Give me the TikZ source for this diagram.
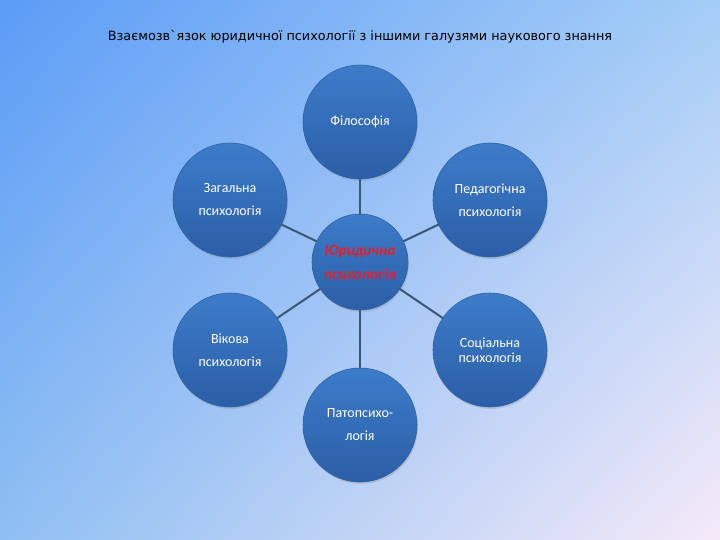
\documentclass[tikz,border=0pt]{standalone}
\usepackage{fontspec}
\setmainfont{Carlito}
\newfontfamily\titlefont{DejaVu Sans}
\usetikzlibrary{shadows,shadings}
\definecolor{bgA}{HTML}{5C9CF6}
\definecolor{bgB}{HTML}{A4CDF6}
\definecolor{bgC}{HTML}{8EBFF2}
\definecolor{bgD}{HTML}{F4E9F8}
\definecolor{ballTop}{HTML}{3D7CC9}
\definecolor{ballBot}{HTML}{2B5EA6}
\definecolor{ballEdge}{HTML}{2F62A6}
\definecolor{linkcol}{HTML}{3A5775}
\definecolor{centrered}{HTML}{E3202B}

\begin{document}
\begin{tikzpicture}[line cap=round,line join=round,x=1pt,y=-1pt,
		ball/.style={circle,minimum size=114pt,inner sep=0pt,draw=ballEdge,line width=0.6pt,
			top color=ballTop,bottom color=ballBot,text=white,align=center,
			font=\fontsize{14}{23}\selectfont,
			drop shadow={shadow xshift=1pt,shadow yshift=-2pt,opacity=0.25}},
		link/.style={draw=linkcol,line width=2pt}]
		\useasboundingbox (0,0) rectangle (720,540);
		\shade[upper left=bgA,upper right=bgB,lower left=bgC,lower right=bgD] (0,0) rectangle (720,540);
		\node[font=\titlefont\fontsize{12.8}{14}\selectfont] (title) at (360,37) {Взаємозв`язок юридичної психології з іншими галузями наукового знання};
		% circles
		\node[ball] (fil) at (360,122) {Філософія};
		\node[ball] (zag) at (230,200) {Загальна\\психологія};
		\node[ball] (ped) at (490,200) {Педагогічна\\психологія};
		\node[ball] (vik) at (230,350) {Вікова\\психологія};
		\node[ball,font=\fontsize{14}{15}\selectfont] (soc) at (490,350) {Соціальна\\психологія};
		\node[ball] (pat) at (360,425) {Патопсихо-\\логія};
		\node[ball,minimum size=96pt,text=centrered,font=\bfseries\itshape\fontsize{15.5}{24}\selectfont] (jur) at (360,262) {Юридична\\психологія};
		% links
		\foreach \n in {fil,zag,ped,vik,soc,pat}
			\path[link] (jur) -- (\n);
	\end{tikzpicture}
\end{document}
